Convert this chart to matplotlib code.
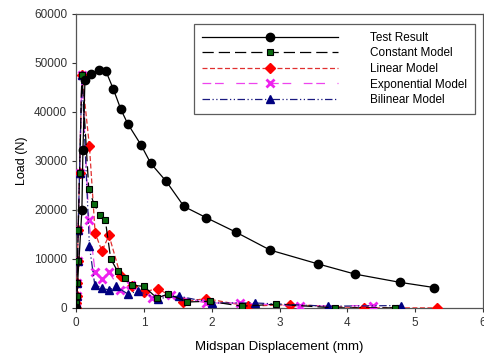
import matplotlib
matplotlib.use('Agg')
import matplotlib.pyplot as plt

plt.rcParams['font.family'] = ['Liberation Sans', 'DejaVu Sans']

# Test result
test_x = [0, 0.085, 0.1, 0.13, 0.22, 0.33, 0.44, 0.55, 0.66, 0.76, 0.955, 1.10,
          1.33, 1.59, 1.92, 2.35, 2.86, 3.56, 4.11, 4.78, 5.28]
test_y = [0, 20000, 32200, 46500, 47800, 48600, 48300, 44600, 40500, 37600, 33300,
          29500, 25800, 20700, 18400, 15500, 11800, 9000, 6900, 5200, 4150]

# Shared initial rise of the models
rise_x = [0, 0.005, 0.01, 0.015, 0.02, 0.03, 0.05, 0.085]
rise_y = [0, 1000, 2500, 5000, 9500, 16000, 27500, 47600]

const_x = rise_x + [0.186, 0.26, 0.35, 0.43, 0.51, 0.61, 0.715, 0.82, 1.0, 1.19,
                    1.36, 1.63, 1.97, 2.44, 2.95, 3.82, 4.70]
const_y = rise_y + [24300, 21300, 19000, 17900, 10000, 7500, 6100, 4600, 4400, 2000,
                    2850, 1200, 1350, 340, 750, 0, 0]

lin_x = rise_x + [0.196, 0.28, 0.38, 0.485, 0.656, 0.82, 1.0, 1.2, 1.57, 1.91,
                  2.54, 3.16, 4.24, 5.32]
lin_y = rise_y + [33000, 15300, 11600, 14800, 6500, 4400, 3300, 3900, 1200, 1900,
                  340, 680, 0, 0]

exp_x = rise_x + [0.186, 0.28, 0.38, 0.485, 0.65, 0.81, 1.12, 1.4, 1.91, 2.42,
                  3.3, 4.38]
exp_y = rise_y + [18000, 7300, 5800, 7300, 3700, 4600, 2000, 2700, 1000, 1000,
                  340, 480]

bil_x = rise_x + [0.196, 0.274, 0.377, 0.485, 0.583, 0.76, 0.91, 1.2, 1.51, 2.01,
                  2.64, 3.71, 4.79]
bil_y = rise_y + [12600, 4760, 4100, 3600, 4400, 2860, 3400, 1900, 2400, 1000,
                  1000, 340, 480]

fig = plt.figure(figsize=(4.85, 3.58), dpi=100)
ax = fig.add_axes([0.157, 0.140, 0.839, 0.821])

ax.plot(test_x, test_y, '-', color='black', lw=0.9, marker='o', ms=6,
        mfc='black', mec='black', label='Test Result', zorder=5)
ax.plot(const_x, const_y, color='black', lw=0.9, dashes=(9, 4), marker='s', ms=5,
        mfc='#0a6b10', mec='black', mew=0.8, label='Constant Model', zorder=4)
ax.plot(lin_x, lin_y, color='#e03030', lw=0.9, dashes=(4, 2), marker='D', ms=5.5,
        mfc='#ff0000', mec='#ff0000', label='Linear Model', zorder=3)
ax.plot(exp_x, exp_y, color='#ee44ee', lw=0.9, dashes=(7, 3, 7, 10), marker='x',
        ms=5.5, mew=2, mec='#ee22ee', label='Exponential Model', zorder=3)
ax.plot(bil_x, bil_y, color='#1a1a80', lw=0.9, dashes=(6, 2, 1, 2, 1, 2), marker='^',
        ms=5.5, mfc='#000080', mec='#000080', label='Bilinear Model', zorder=3)

ax.set_xlim(0, 6)
ax.set_ylim(0, 60000)
ax.set_xticks(range(0, 7))
ax.set_yticks(range(0, 60001, 10000))
ax.tick_params(labelsize=8.5, length=3, width=0.8, colors='#333333')
for s in ax.spines.values():
    s.set_color('#555555')
    s.set_linewidth(0.9)

ax.set_xlabel('Midspan Displacement (mm)', fontsize=9.5, labelpad=9)
ax.set_ylabel('Load (N)', fontsize=9, labelpad=4)

leg = ax.legend(loc='upper right', bbox_to_anchor=(0.981, 0.967), fontsize=8.5,
                numpoints=1, handlelength=11.5, handletextpad=2.7, labelspacing=0.3,
                fancybox=False, frameon=True, borderpad=0.7, borderaxespad=0)
leg.get_frame().set_edgecolor('#333333')
leg.get_frame().set_linewidth(0.9)

fig.savefig('out.png', dpi=100)
